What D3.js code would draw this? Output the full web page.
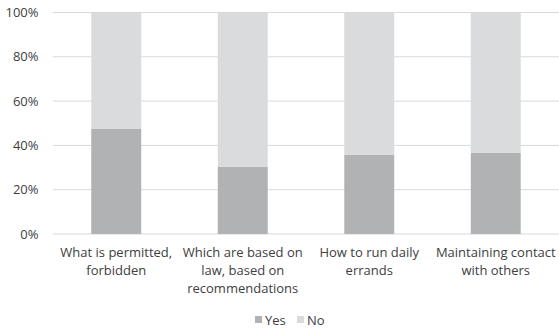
<!DOCTYPE html>
<html>
<head>
<meta charset="utf-8">
<script src="https://cdn.jsdelivr.net/npm/d3@7"></script>
<style>
  html, body { margin: 0; padding: 0; background: #fff; }
  text { font-family: "Open Sans", "Liberation Sans", sans-serif; fill: #404040; }
</style>
</head>
<body>
<svg id="chart" width="559" height="332"></svg>
<script>
const categories = [
  ["What is permitted,", "forbidden"],
  ["Which are based on", "law, based on", "recommendations"],
  ["How to run daily", "errands"],
  ["Maintaining contact", "with others"]
];
const yesValues = [0.474, 0.304, 0.357, 0.366];
const noValues = yesValues.map(v => 1 - v);
const seriesNames = ["Yes", "No"];
const seriesColors = ["#b1b2b4", "#dadbdc"];
const yTicks = [0, 0.2, 0.4, 0.6, 0.8, 1];

const svg = d3.select("#chart");
const margin = { left: 53, right: 0, top: 12.5, bottom: 98 };
const W = 559, H = 332;

const x = d3.scaleBand()
  .domain(d3.range(categories.length))
  .range([margin.left, W - margin.right])
  .paddingInner(0.605).paddingOuter(0.3025);

const y = d3.scaleLinear().domain([0, 1]).range([H - margin.bottom, margin.top]);

// gridlines
svg.append("g").selectAll("line").data(yTicks).join("line")
  .attr("x1", margin.left).attr("x2", W - margin.right)
  .attr("y1", d => y(d)).attr("y2", d => y(d))
  .attr("stroke", "#d9d9d9").attr("stroke-width", 1);

// y tick labels
svg.append("g").selectAll("text").data(yTicks).join("text")
  .attr("x", 38.5).attr("y", d => y(d)).attr("dy", "0.35em")
  .attr("text-anchor", "end").attr("font-size", 13)
  .text(d => d3.format(".0%")(d));

// stacked bars
const rows = categories.map((c, i) => ({ i, Yes: yesValues[i], No: noValues[i] }));
const stack = d3.stack().keys(seriesNames)(rows);
svg.append("g").selectAll("g").data(stack).join("g")
  .attr("fill", (d, k) => seriesColors[k])
  .selectAll("rect").data(d => d).join("rect")
  .attr("x", d => x(d.data.i))
  .attr("width", x.bandwidth())
  .attr("y", d => y(d[1]))
  .attr("height", d => y(d[0]) - y(d[1]));

// category labels
const lab = svg.append("g").selectAll("text").data(categories).join("text")
  .attr("text-anchor", "middle").attr("font-size", 13)
  .attr("x", (d, i) => x(i) + x.bandwidth() / 2)
  .attr("y", 257);
lab.selectAll("tspan").data(d => d).join("tspan")
  .attr("x", function () { return d3.select(this.parentNode).attr("x"); })
  .attr("dy", (d, j) => j === 0 ? 0 : 18)
  .text(d => d);

// legend
const legend = svg.append("g");
const legX = [255, 297];
seriesNames.forEach((s, k) => {
  legend.append("rect").attr("x", legX[k]).attr("y", 316)
    .attr("width", 7).attr("height", 7).attr("fill", seriesColors[k]);
  legend.append("text").attr("x", legX[k] + 10).attr("y", 320).attr("dy", "0.35em")
    .attr("font-size", 13).text(s);
});
</script>
</body>
</html>
